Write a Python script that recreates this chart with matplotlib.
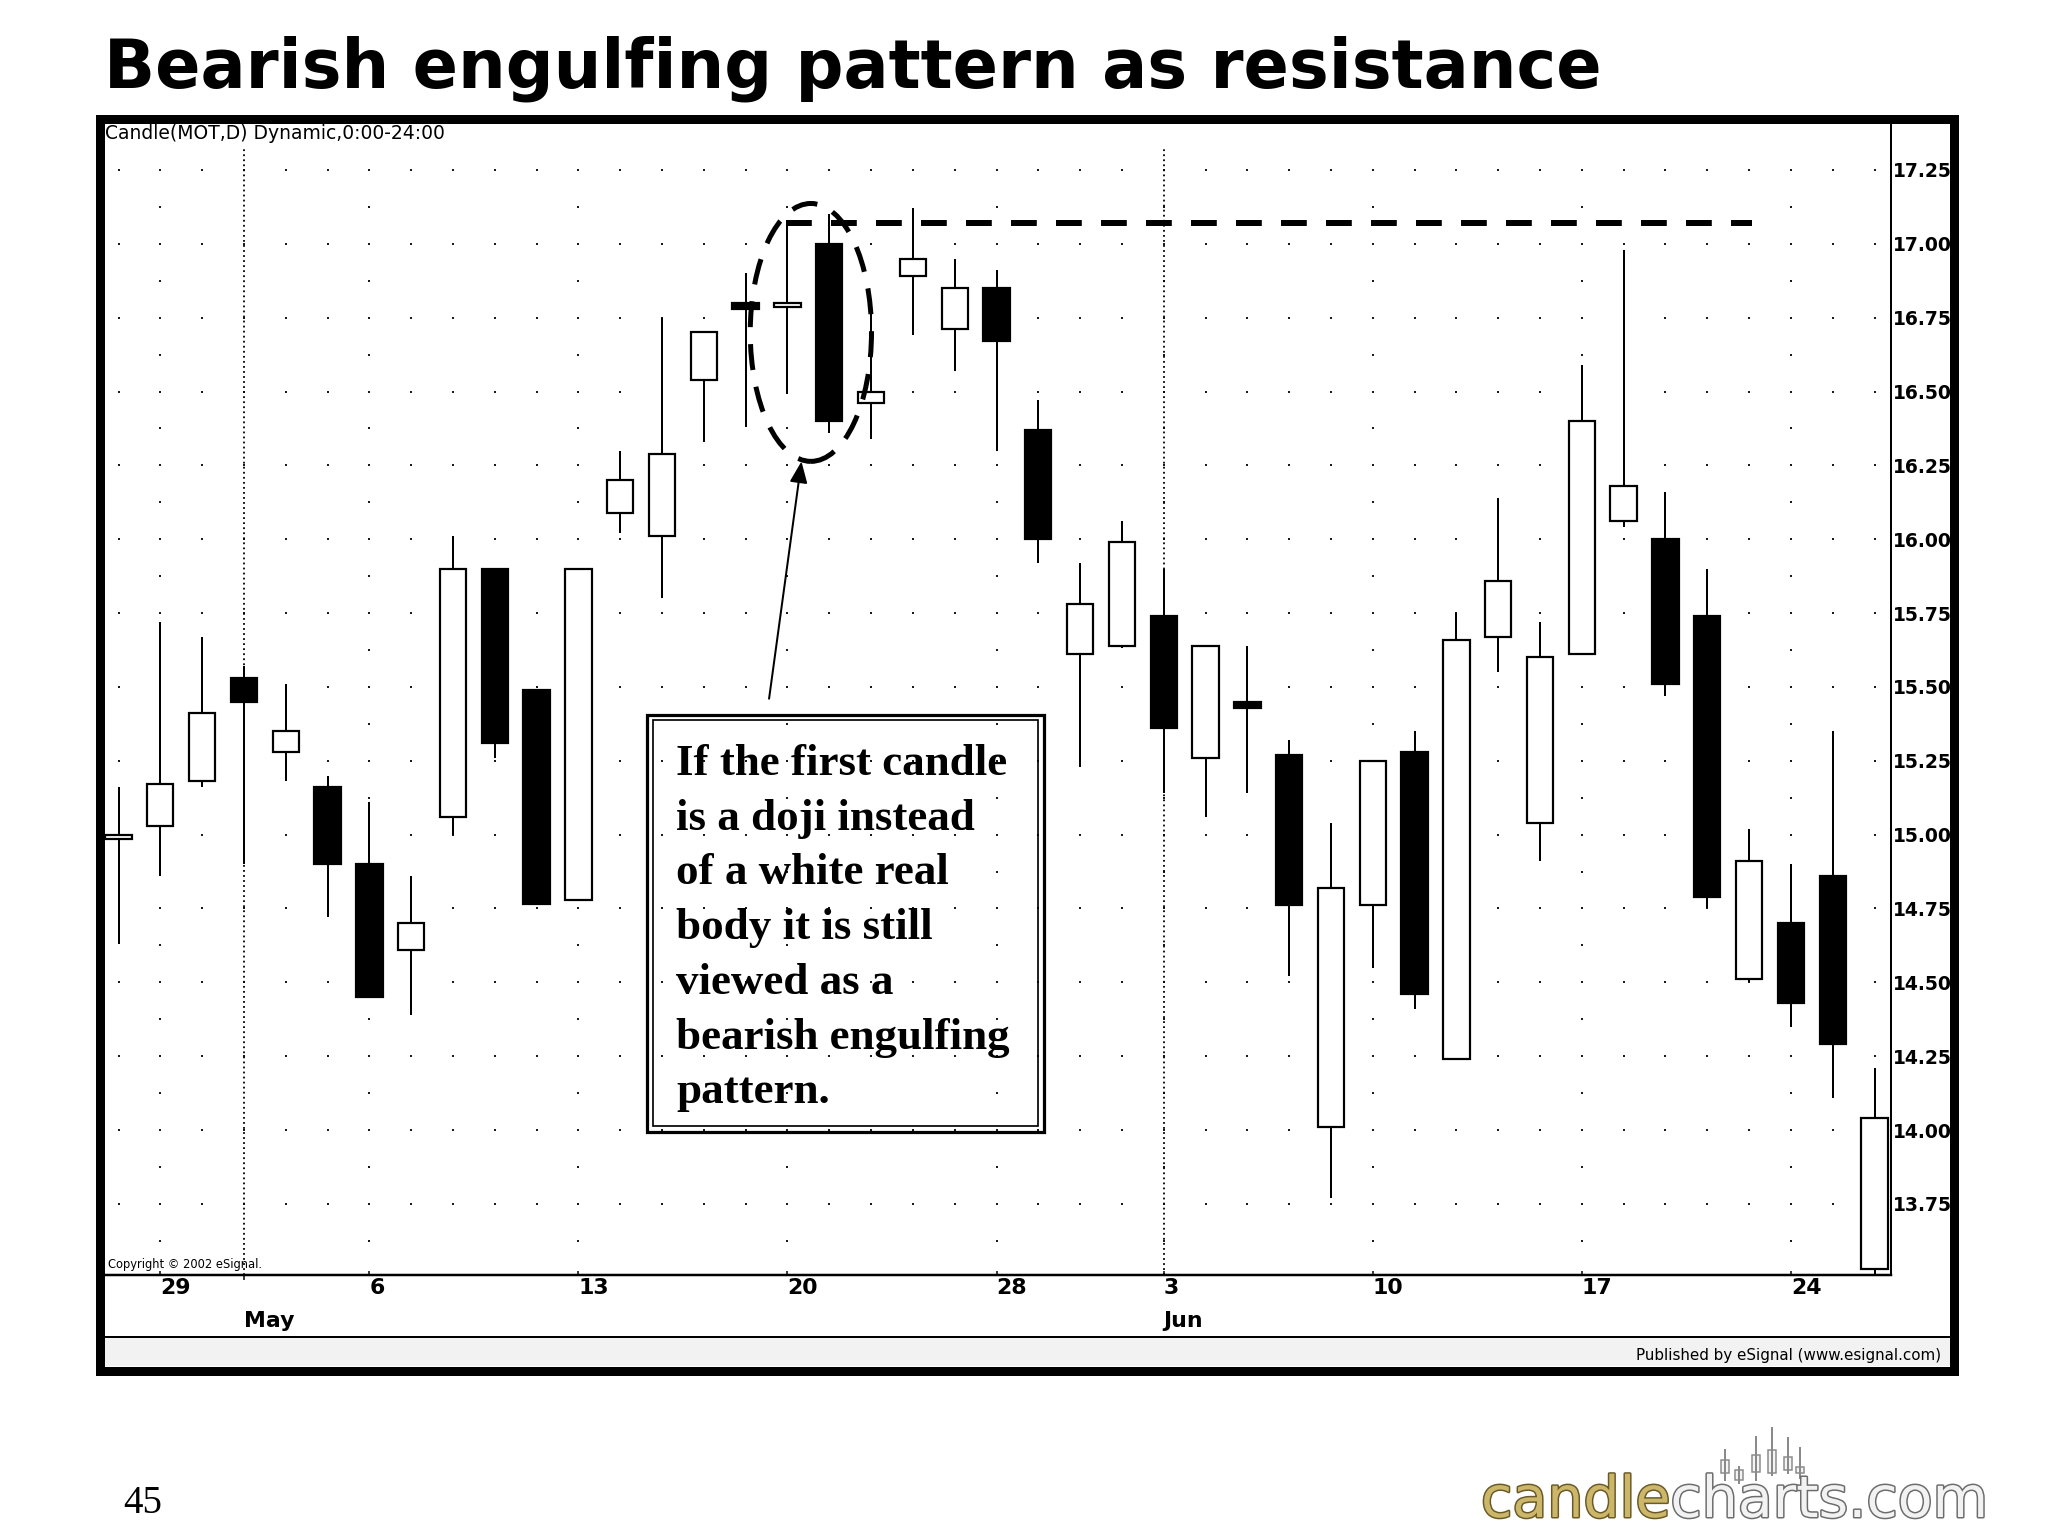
import numpy as np
import matplotlib
matplotlib.use("Agg")
import matplotlib.pyplot as plt
import matplotlib.patheffects as pe
from matplotlib import font_manager
from matplotlib.lines import Line2D
from matplotlib.patches import Rectangle, Ellipse
from matplotlib.transforms import blended_transform_factory

# MOT daily candles, Apr 26 - Jun 26 2002
opens = [14.985, 15.03, 15.18, 15.53, 15.28, 15.16, 14.90, 14.61, 15.06, 15.90,
         15.49, 14.78, 16.09, 16.01, 16.54, 16.80, 16.785, 17.00, 16.46, 16.89,
         16.71, 16.85, 16.37, 15.61, 15.64, 15.74, 15.26, 15.45, 15.27, 14.01,
         14.76, 15.28, 14.24, 15.67, 15.04, 15.61, 16.06, 16.00, 15.74, 14.51,
         14.70, 14.86, 13.53]
highs = [15.16, 15.72, 15.67, 15.57, 15.51, 15.20, 15.11, 14.86, 16.01, 15.90,
         15.49, 15.90, 16.30, 16.75, 16.70, 16.90, 17.07, 17.10, 16.77, 17.12,
         16.95, 16.91, 16.47, 15.92, 16.06, 15.90, 15.64, 15.64, 15.32, 15.04,
         15.25, 15.35, 15.75, 16.14, 15.72, 16.59, 16.98, 16.16, 15.90, 15.02,
         14.90, 15.35, 14.21]
lows = [14.63, 14.86, 15.16, 14.90, 15.18, 14.72, 14.45, 14.39, 15.00, 15.26,
        14.765, 14.78, 16.02, 15.80, 16.33, 16.38, 16.49, 16.36, 16.34, 16.69,
        16.57, 16.30, 15.92, 15.23, 15.63, 15.14, 15.06, 15.14, 14.52, 13.77,
        14.55, 14.41, 14.24, 15.55, 14.91, 15.61, 16.04, 15.47, 14.75, 14.50,
        14.35, 14.11, 13.50]
closes = [15.00, 15.17, 15.41, 15.45, 15.35, 14.90, 14.45, 14.70, 15.90, 15.31,
          14.765, 15.90, 16.20, 16.29, 16.70, 16.78, 16.80, 16.40, 16.50, 16.95,
          16.85, 16.67, 16.00, 15.78, 15.99, 15.36, 15.64, 15.43, 14.76, 14.82,
          15.25, 14.46, 15.66, 15.86, 15.60, 16.40, 16.18, 15.51, 14.79, 14.91,
          14.43, 14.29, 14.04]

week_ticks = [1, 6, 11, 16, 21, 25, 30, 35, 40]
week_labels = ["29", "6", "13", "20", "28", "3", "10", "17", "24"]
month_ticks = [3, 25]
month_labels = ["May", "Jun"]
price_ticks = [13.75, 14.00, 14.25, 14.50, 14.75, 15.00, 15.25, 15.50,
               15.75, 16.00, 16.25, 16.50, 16.75, 17.00, 17.25]

resistance = 17.07
resistance_span = (15.97, 39.08)
pattern_center = (16.56, 16.70)
arrow_tail = (15.56, 15.46)
arrow_tip = (16.335, 16.263)

note_lines = ["If the first candle", "is a doji instead", "of a white real",
              "body it is still", "viewed as a", "bearish engulfing", "pattern."]

# figure is laid out in pixels of the 2048x1536 slide
W, H = 2048, 1536


def fx(x):
    return x / W


def fy(y):
    return 1 - y / H


def pt(p):
    return p * 0.72


avail = {f.name for f in font_manager.fontManager.ttflist}
if "Liberation Sans Narrow" in avail:
    NARROW, nscale = "Liberation Sans Narrow", 1.0
else:
    NARROW, nscale = "DejaVu Sans", 0.72

fig = plt.figure(figsize=(20.48, 15.36), dpi=100)
fig.patch.set_facecolor("white")

fig.text(fx(104), fy(88), "Bearish engulfing pattern as resistance",
         family="DejaVu Sans", weight="bold", fontsize=pt(67), va="baseline")

# chart panel
X0, DX = 118.5, 41.81
ax = fig.add_axes([fx(104), fy(1275), fx(1891) - fx(104), fy(125) - fy(1275)])
ax.set_xlim((104 - X0) / DX, (1891 - X0) / DX)
ax.set_ylim(15 - (1275 - 834.6) / 295.4, 15 + (834.6 - 125) / 295.4)

# dotted grid: every 0.25 on each day, every 0.125 on week columns
n = len(opens)
gx, gy = [], []
for i in range(n):
    for v in price_ticks:
        gx.append(i)
        gy.append(v)
    if i in week_ticks:
        for v in np.arange(13.625, 17.2, 0.25):
            gx.append(i)
            gy.append(v)
ax.scatter(gx, gy, s=3, marker="s", color="#1a1a1a", linewidths=0, zorder=1)

ax.vlines(month_ticks, ax.get_ylim()[0], 17.32, colors="black",
          linestyles=[(0, (1, 1.8))], lw=pt(1.8), zorder=1)

o, h, l, c = map(np.array, (opens, highs, lows, closes))
x = np.arange(n)
up = c >= o
ax.vlines(x, l, h, colors="black", lw=pt(2), zorder=3)
ax.bar(x, np.abs(c - o), bottom=np.minimum(o, c), width=0.63,
       color=np.where(up, "white", "black"), edgecolor="black",
       linewidth=pt(2.2), zorder=4)

# resistance line, pattern ring and pointer
ax.hlines(resistance, *resistance_span, colors="black", lw=pt(6),
          linestyles=[(0, (4.3, 3.2))], zorder=5)
ax.add_patch(Ellipse(pattern_center, 2.9, 0.873, fill=False, ec="black",
                     lw=pt(5), ls=(0, (5.2, 3.4)), zorder=6))
ax.annotate("", xy=arrow_tip, xytext=arrow_tail,
            arrowprops=dict(arrowstyle="-|>,head_length=0.6,head_width=0.25",
                            color="black", lw=pt(2), shrinkA=0, shrinkB=0,
                            mutation_scale=pt(30)), zorder=6)

for side in ("top", "left"):
    ax.spines[side].set_visible(False)
ax.spines["bottom"].set_linewidth(pt(2.5))
ax.spines["right"].set_linewidth(pt(2))

ax.yaxis.tick_right()
ax.set_yticks(price_ticks)
ax.set_yticklabels([f"{v:.2f}" for v in price_ticks], family=NARROW,
                   weight="bold", fontsize=pt(26 * nscale))
ax.tick_params(axis="y", length=0, pad=pt(2))

xsize = 26 * nscale if nscale == 1.0 else 22
ax.set_xticks(week_ticks)
ax.set_xticklabels(week_labels, family=NARROW, weight="bold",
                   fontsize=pt(xsize), ha="left")
ax.tick_params(axis="x", direction="in", length=pt(4), width=pt(1.5), pad=pt(3))
ax.set_xticks(month_ticks, minor=True)
ax.tick_params(axis="x", which="minor", direction="out", length=pt(5),
               width=pt(1.5))

tr = blended_transform_factory(ax.transData, fig.transFigure)
for m, lab in zip(month_ticks, month_labels):
    ax.text(m, fy(1311), lab, transform=tr, family=NARROW, weight="bold",
            fontsize=pt(xsize), ha="left", va="top")

fig.text(fx(105), fy(124), "Candle(MOT,D) Dynamic,0:00-24:00", family=NARROW,
         fontsize=pt(26 * nscale), va="top")
fig.text(fx(108), fy(1268), "Copyright \u00a9 2002 eSignal.", family=NARROW,
         fontsize=pt(16 * nscale), va="baseline")

# bottom strip and outer frame
fig.add_artist(Rectangle((fx(104), fy(1366)), fx(1950) - fx(104),
                         fy(1337) - fy(1366), transform=fig.transFigure,
                         fc="#f2f2f2", ec="none", zorder=1))
fig.add_artist(Line2D([fx(104), fx(1950)], [fy(1337), fy(1337)],
                      transform=fig.transFigure, color="black", lw=pt(2)))
fig.text(fx(1941), fy(1360), "Published by eSignal (www.esignal.com)",
         family=NARROW, fontsize=pt(21 * nscale), ha="right", va="baseline",
         zorder=2)
fig.add_artist(Rectangle((fx(99.5), fy(1370.5)), fx(1954) - fx(99.5),
                         fy(119) - fy(1370.5), transform=fig.transFigure,
                         fill=False, ec="black", lw=pt(9), zorder=10))

# note box (double border)
for (x0, y0, x1, y1, lw) in [(647, 714.7, 1043.5, 1131.7, 3.2),
                             (653, 720, 1037.7, 1125.8, 1.7)]:
    fig.add_artist(Rectangle((fx(x0), fy(y1)), fx(x1) - fx(x0), fy(y0) - fy(y1),
                             transform=fig.transFigure, fill=False,
                             ec="black", lw=pt(lw), zorder=8))
for k, line in enumerate(note_lines):
    fig.text(fx(676), fy(775 + k * 54.7), line, family="Liberation Serif",
             weight="bold", fontsize=pt(45), va="baseline", zorder=9)

fig.text(fx(123), fy(1513), "45", family="Liberation Serif", fontsize=pt(39),
         va="baseline")

# candlecharts.com logo
logo_x = [1725, 1739, 1756, 1772, 1788, 1800]
logo_hi = [1450, 1467, 1437, 1428, 1438, 1448]
logo_lo = [1480, 1483, 1480, 1475, 1473, 1478]
logo_top = [1460, 1470, 1455, 1450, 1457, 1467]
logo_bot = [1473, 1480, 1472, 1473, 1470, 1473]
for lx, hi, lo, bt, bb in zip(logo_x, logo_hi, logo_lo, logo_top, logo_bot):
    fig.add_artist(Line2D([fx(lx), fx(lx)], [fy(lo), fy(hi)],
                          transform=fig.transFigure, color="#8a8a8a", lw=pt(2)))
    fig.add_artist(Rectangle((fx(lx - 4), fy(bb)), fx(8), fy(bt) - fy(bb),
                             transform=fig.transFigure, fc="#f4f4f4",
                             ec="#8a8a8a", lw=pt(1.5)))
t1 = fig.text(fx(1481), fy(1517), "candle", family="DejaVu Sans",
              fontsize=pt(57), color="#ccb66a", va="baseline",
              path_effects=[pe.withStroke(linewidth=pt(3), foreground="#6a5a28")])
r = fig.canvas.get_renderer()
bb = t1.get_window_extent(renderer=r)
fig.text(bb.x1 / W, fy(1517), "charts.com", family="DejaVu Sans",
         fontsize=pt(57), color="#f2f2f2", va="baseline",
         path_effects=[pe.withStroke(linewidth=pt(3), foreground="#6c6c6c")])

fig.savefig("out.png", dpi=100)
